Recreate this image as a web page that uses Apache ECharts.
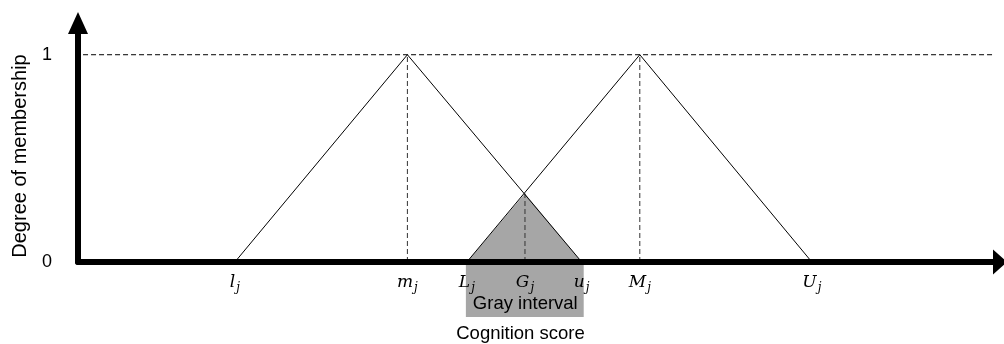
<!DOCTYPE html>
<html><head><meta charset="utf-8">
<script src="https://cdn.jsdelivr.net/npm/echarts@6/dist/echarts.min.js"></script>
<style>html,body{margin:0;padding:0;background:#fff}#c{width:1004px;height:344px}</style>
</head><body><div id="c"></div>
<script>
// x-axis reference points (cognition score units) and their labels
const pointLetters = ['l', 'm', 'L', 'G', 'u', 'M', 'U'];
const pointValues  = [17.15, 36.0, 42.5, 48.85, 55.05, 61.4, 80.2];
// membership functions
const firstTriangle  = [[17.15, 0], [36.0, 1], [55.05, 0]];   // l, m, u
const secondTriangle = [[42.5, 0], [61.4, 1], [80.2, 0]];     // L, M, U
const grayArea       = [[42.5, 0], [48.85, 0.33], [55.05, 0]]; // L, G, u
const grayIntervalRange = [[42.5, 55.05]];
const dropM = [[36.0, 0], [36.0, 1]];
const dropMM = [[61.4, 0], [61.4, 1]];
const dropG = [[48.85, 0], [48.85, 0.33]];
const fullLine = [[0.55, 1], [101.2, 1]];
const yTickValues = [0, 1];

const chart = echarts.init(document.getElementById('c'), null, {renderer: 'canvas'});
const labelOf = {};
pointValues.forEach((v, i) => { labelOf[v] = pointLetters[i]; });

const thinLine = (data, extra) => Object.assign({
  type: 'line', data: data, symbol: 'none', silent: true, z: 3,
  lineStyle: {color: '#000', width: 1}
}, extra || {});

chart.setOption({
  animation: false,
  backgroundColor: '#fff',
  grid: {left: 78, right: 11, top: 34, bottom: 82, outerBoundsMode: 'none', containLabel: false},
  xAxis: {
    type: 'value', min: 0, max: 100, z: 5,
    name: 'Cognition score', nameLocation: 'middle', nameGap: 62,
    nameTextStyle: {fontFamily: 'Liberation Sans', fontSize: 18.5, color: '#000', padding: [0, 30, 0, 0]},
    axisLine: {show: true, onZero: false, lineStyle: {color: '#000', width: 6},
      symbol: ['none', 'triangle'], symbolSize: [25, 14], symbolOffset: [0, 7]},
    axisTick: {show: false},
    splitLine: {show: false},
    axisLabel: {
      customValues: pointValues, margin: 11,
      formatter: v => '{a|' + labelOf[v] + '}{s|j}',
      rich: {
        a: {fontFamily: 'DejaVu Serif', fontStyle: 'italic', fontSize: 17, color: '#000', lineHeight: 20},
        s: {fontFamily: 'DejaVu Serif', fontStyle: 'italic', fontSize: 12, color: '#000', lineHeight: 13, padding: [10, 0, 0, 1]}
      }
    }
  },
  yAxis: {
    type: 'value', min: 0, max: 1.1, z: 5,
    name: 'Degree of membership', nameLocation: 'middle', nameGap: 48,
    nameTextStyle: {fontFamily: 'Liberation Sans', fontSize: 20, color: '#000', padding: [0, 16, 0, 0]},
    axisLine: {show: true, lineStyle: {color: '#000', width: 6},
      symbol: ['none', 'triangle'], symbolSize: [20, 22], symbolOffset: [0, 11]},
    axisTick: {show: false},
    splitLine: {show: false},
    axisLabel: {customValues: yTickValues, margin: 26,
      fontFamily: 'Liberation Sans', fontSize: 18, color: '#000'}
  },
  series: [
    {
      type: 'custom', z: 1, silent: true, data: grayIntervalRange,
      renderItem: function (params, api) {
        const p1 = api.coord([api.value(0), 0]);
        const p2 = api.coord([api.value(1), 0]);
        return {
          type: 'group', children: [
            {type: 'rect', shape: {x: p1[0] - 1, y: p1[1] - 3, width: p2[0] - p1[0] + 3, height: 58},
              style: {fill: '#a6a6a6'}},
            {type: 'text', style: {text: 'Gray interval', x: (p1[0] + p2[0]) / 2 + 1, y: p1[1] + 42,
              align: 'center', verticalAlign: 'middle', fontFamily: 'Liberation Sans', fontSize: 18.5, fill: '#000'}}
          ]
        };
      }
    },
    {type: 'line', data: grayArea, symbol: 'none', silent: true, z: 2,
      lineStyle: {width: 0}, areaStyle: {color: '#a6a6a6', opacity: 1}},
    thinLine(fullLine, {clip: false, lineStyle: {color: '#000', width: 1, type: [5, 3]}}),
    thinLine(dropM, {lineStyle: {color: '#333', width: 1, type: [5, 3]}}),
    thinLine(dropMM, {lineStyle: {color: '#333', width: 1, type: [5, 3]}}),
    thinLine(dropG, {lineStyle: {color: '#333', width: 1, type: [5, 3]}}),
    thinLine(firstTriangle),
    thinLine(secondTriangle)
  ]
});
</script>
</body></html>
